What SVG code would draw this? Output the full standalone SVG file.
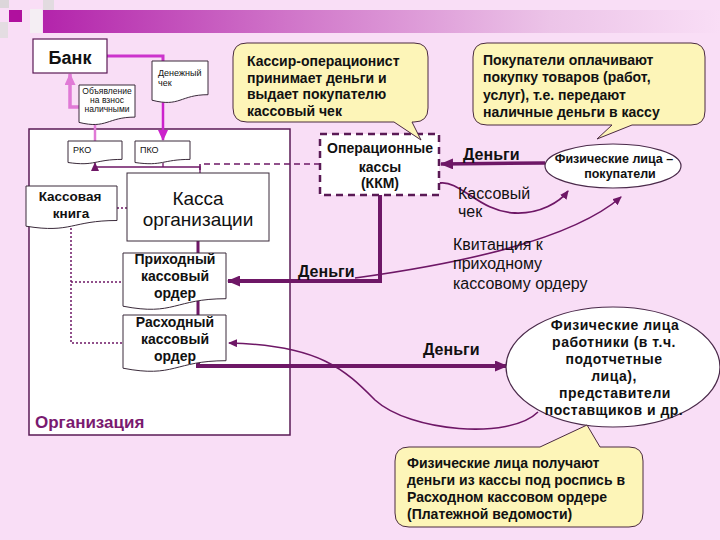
<svg xmlns="http://www.w3.org/2000/svg" width="720" height="540" viewBox="0 0 720 540">
<defs>
<linearGradient id="bar" x1="0" y1="0" x2="1" y2="0">
<stop offset="0" stop-color="#b324ab"/>
<stop offset="0.35" stop-color="#cf72c8"/>
<stop offset="0.75" stop-color="#ecc4e8"/>
<stop offset="1" stop-color="#f9def6"/>
</linearGradient>
<marker id="aThick" markerUnits="userSpaceOnUse" markerWidth="13" markerHeight="11" refX="12" refY="5.5" orient="auto"><path d="M0,0 L13,5.5 L0,11 Z" fill="#6e1766"/></marker>
<marker id="aThin" markerUnits="userSpaceOnUse" markerWidth="9" markerHeight="8" refX="8" refY="4" orient="auto"><path d="M0,0 L9,4 L0,8 Z" fill="#6e1766"/></marker>
<marker id="aMag" markerUnits="userSpaceOnUse" markerWidth="11" markerHeight="10" refX="10" refY="5" orient="auto"><path d="M0,0 L11,5 L0,10 Z" fill="#cc22cc"/></marker>
<marker id="aLight" markerUnits="userSpaceOnUse" markerWidth="12" markerHeight="11" refX="11" refY="5.5" orient="auto"><path d="M0,0 L12,5.5 L0,11 Z" fill="#e07ad6"/></marker>
</defs>
<style>
text{font-family:"Liberation Sans",Arial,sans-serif;fill:#111}
.b{font-weight:bold}
.doc{fill:#fff;stroke:#3a2a3a;stroke-width:1}
.box{fill:#fff;stroke:#5a1a55;stroke-width:1.2}
.call{fill:#fdf5b8;stroke:#4a2a40;stroke-width:1}
.ell{fill:#fff;stroke:#4a2a4a;stroke-width:1.2}
.c{fill:none;stroke:#6e1766}
.mid{text-anchor:middle}
.ct{font-weight:bold;font-size:14px}
.et{font-weight:bold;font-size:14px;letter-spacing:0.5px;text-anchor:middle}
</style>
<rect width="720" height="540" fill="#f9def6"/>
<g id="decor">
<rect x="0" y="0" width="9" height="8" fill="#dcd6da"/>
<rect x="0" y="22" width="8" height="16" fill="#e4dde2"/>
<rect x="43" y="0" width="11" height="10" fill="#e2dbe0"/>
<rect x="30" y="9" width="12" height="24" fill="#f4eef3"/>
<rect x="9" y="10" width="13" height="12" fill="#b0109e"/>
<rect x="43" y="10" width="677" height="23" fill="url(#bar)"/>
</g>
<g id="organization">
<rect x="29" y="129" width="261" height="306" fill="#fff" stroke="#5a1a55" stroke-width="1.5"/>
<text class="b" x="35" y="428" font-size="17" style="fill:#7a1a70">Организация</text>
</g>
<g id="connectors">
<path class="c" d="M107,56 H163 V61" style="stroke:#cc33cc;stroke-width:3"/>
<path class="c" d="M163,101 V140" style="stroke:#cc22cc;stroke-width:2.5" marker-end="url(#aMag)"/>
<path class="c" d="M79,107 H70 V74" style="stroke:#e07ad6;stroke-width:3.5" marker-end="url(#aLight)"/>
<path class="c" d="M95,123 V141" style="stroke:#e07ad6;stroke-width:2.5"/>
<path class="c" d="M200,173 V167 H95 V163" stroke-width="1.3" marker-end="url(#aThin)"/>
<path class="c" d="M163,163 V167" stroke-width="1.3"/>
<path class="c" d="M320,164 H200 V173" stroke-width="1.6" stroke-dasharray="6,4"/>
<path class="c" d="M117,208 H127" stroke-width="1.5" stroke-dasharray="2,2"/>
<path class="c" d="M71,228 V343 H123 M71,282 H123" stroke-width="1.5" stroke-dasharray="2,2"/>
<path class="c" d="M198,241 V253 M198,301 V315" stroke-width="3"/>
<path class="c" d="M380,195 V281 H228" stroke-width="4" marker-end="url(#aThick)"/>
<path class="c" d="M545,163 L441,164" stroke-width="3.5" marker-end="url(#aThick)"/>
<path class="c" d="M440,183 C460,180 480,212 515,213 C540,214 560,202 568,191" stroke-width="1.8" marker-end="url(#aThin)"/>
<path class="c" d="M355,278 Q560,250 621,197" stroke-width="1.6" marker-end="url(#aThin)"/>
<path class="c" d="M198,363 V366 H507" stroke-width="4" marker-end="url(#aThick)"/>
<path class="c" d="M538,412 C510,440 410,432 375,400 C345,370 320,345 229,343" stroke-width="1.6" marker-end="url(#aThin)"/>
</g>
<g id="bank">
<rect class="box" x="33" y="39" width="74" height="34"/>
<text class="b mid" x="70" y="64" font-size="18">Банк</text>
</g>
<g id="cheque">
<path class="doc" d="M152,61 H208 V94.7 C180,94.7 180,107.5 152,100.2 Z"/>
<text x="158" y="76" font-size="9">Денежный</text>
<text x="158" y="86" font-size="9">чек</text>
</g>
<g id="announcement">
<path class="doc" d="M79,85 H135 V117.1 C107,117.1 107,129.3 79,122.4 Z"/>
<text class="mid" x="107" y="94" font-size="8.5">Объявление</text>
<text class="mid" x="107" y="103" font-size="8.5">на взнос</text>
<text class="mid" x="107" y="112" font-size="8.5">наличными</text>
</g>
<g id="rko">
<path class="doc" d="M68,141 H122 V159.4 C95,159.4 95,166.5 68,162.5 Z"/>
<text x="73" y="153" font-size="9">РКО</text>
</g>
<g id="pko">
<path class="doc" d="M135,141 H190 V159.4 C162.5,159.4 162.5,166.5 135,162.5 Z"/>
<text x="140" y="153" font-size="9">ПКО</text>
</g>
<g id="cashbook">
<path class="doc" d="M26,186 H117 V220.5 C71.5,220.5 71.5,233.6 26,226.2 Z"/>
<text class="b mid" x="70" y="201" font-size="13.5">Кассовая</text>
<text class="b mid" x="71" y="218" font-size="13.5">книга</text>
</g>
<g id="kassa">
<rect class="doc" x="127" y="173" width="142" height="68"/>
<text class="mid" x="198" y="205" font-size="19">Касса</text>
<text class="mid" x="198" y="226" font-size="19">организации</text>
</g>
<g id="pko-order">
<path class="doc" d="M123,253 H226 V298.7 C174.5,298.7 174.5,316.2 123,306.2 Z"/>
<text class="b mid" x="175" y="264" font-size="14">Приходный</text>
<text class="b mid" x="175" y="281" font-size="14">кассовый</text>
<text class="b mid" x="175" y="298" font-size="14">ордер</text>
</g>
<g id="rko-order">
<path class="doc" d="M123,315 H226 V360.7 C174.5,360.7 174.5,378.2 123,368.2 Z"/>
<text class="b mid" x="175" y="327" font-size="14">Расходный</text>
<text class="b mid" x="175" y="344" font-size="14">кассовый</text>
<text class="b mid" x="175" y="361" font-size="14">ордер</text>
</g>
<g id="operational">
<rect x="320" y="134" width="119" height="61" fill="#fff" stroke="#5a1a55" stroke-width="2.5" stroke-dasharray="7,5"/>
<text class="b mid" x="380" y="153" font-size="14">Операционные</text>
<text class="b mid" x="380" y="172" font-size="14">кассы</text>
<text class="b mid" x="380" y="188" font-size="14">(ККМ)</text>
</g>
<g id="callout-cashier">
<path class="call" d="M247,43 H414 Q428,43 428,57 V108 Q428,122 414,122 H412 L421,140 L394,122 H247 Q233,122 233,108 V57 Q233,43 247,43 Z"/>
<text class="ct" x="247" y="66">Кассир-операционист</text>
<text class="ct" x="247" y="83">принимает деньги и</text>
<text class="ct" x="247" y="99">выдает покупателю</text>
<text class="ct" x="247" y="116">кассовый чек</text>
</g>
<g id="callout-buyers">
<path class="call" d="M487,43 H691 Q705,43 705,57 V111 Q705,125 691,125 H632 L597,139 L612,125 H487 Q473,125 473,111 V57 Q473,43 487,43 Z"/>
<text class="ct" x="483" y="65">Покупатели оплачивают</text>
<text class="ct" x="483" y="82">покупку товаров (работ,</text>
<text class="ct" x="483" y="100">услуг), т.е. передают</text>
<text class="ct" x="483" y="117">наличные деньги в кассу</text>
</g>
<g id="buyers">
<ellipse class="ell" cx="613" cy="166" rx="68" ry="22"/>
<text class="b mid" x="614" y="163" font-size="12.5">Физические лица –</text>
<text class="b mid" x="620" y="178" font-size="12.5">покупатели</text>
</g>
<g id="workers">
<ellipse class="ell" cx="613" cy="367" rx="107" ry="60"/>
<text class="et" x="615" y="330">Физические лица</text>
<text class="et" x="614" y="347">работники (в т.ч.</text>
<text class="et" x="614" y="364">подотчетные</text>
<text class="et" x="614" y="381">лица),</text>
<text class="et" x="615" y="398">представители</text>
<text class="et" x="614" y="415">поставщиков и др.</text>
</g>
<g id="callout-workers">
<path class="call" d="M409,447 H540 L587,425 L600,447 H629 Q643,447 643,461 V513 Q643,527 629,527 H409 Q395,527 395,513 V461 Q395,447 409,447 Z"/>
<text class="ct" x="407" y="468">Физические лица получают</text>
<text class="ct" x="407" y="485">деньги из кассы под роспись в</text>
<text class="ct" x="407" y="502">Расходном кассовом ордере</text>
<text class="ct" x="407" y="519">(Платежной ведомости)</text>
</g>
<g id="labels">
<text class="b" x="463" y="160" font-size="16">Деньги</text>
<text x="458" y="199" font-size="16">Кассовый</text>
<text x="458" y="217" font-size="16">чек</text>
<text x="453" y="250" font-size="16">Квитанция к</text>
<text x="453" y="269" font-size="16">приходному</text>
<text x="453" y="289" font-size="16">кассовому ордеру</text>
<text class="b" x="298" y="277" font-size="16">Деньги</text>
<text class="b" x="423" y="355" font-size="16">Деньги</text>
</g>
</svg>
